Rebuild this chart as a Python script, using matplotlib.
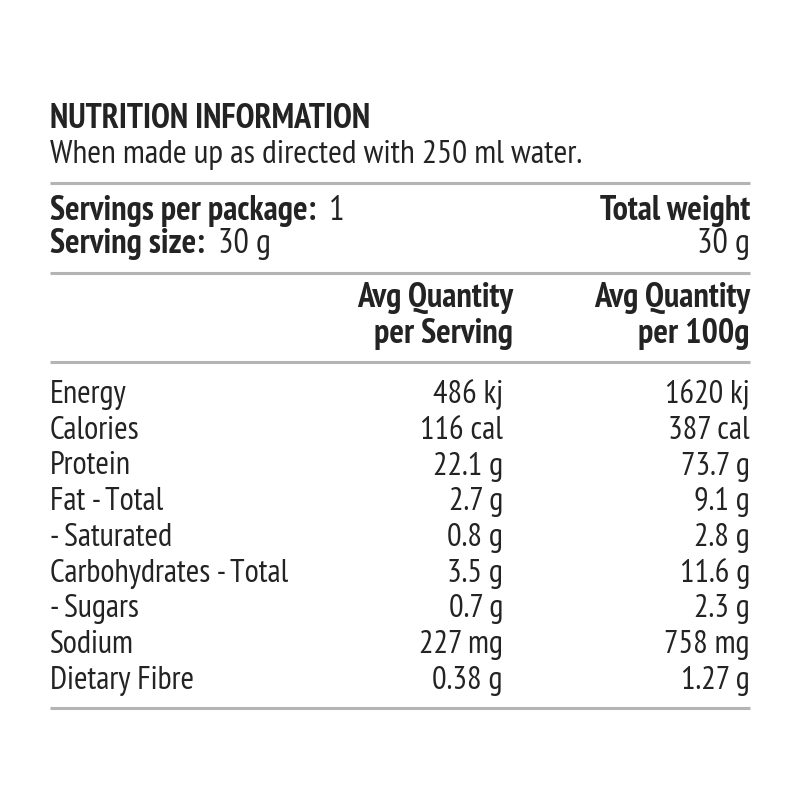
import matplotlib
matplotlib.use("Agg")
import matplotlib.pyplot as plt
from matplotlib import font_manager

# Label content
title = "NUTRITION INFORMATION"
subtitle = "When made up as directed with 250 ml water."
servings_label = "Servings per package:"
servings_value = "1"
size_label = "Serving size:"
size_value = "30 g"
total_label = "Total weight"
total_value = "30 g"
col_headers = [["Avg Quantity", "per Serving"], ["Avg Quantity", "per 100g"]]

nutrients = ["Energy", "Calories", "Protein", "Fat - Total", "- Saturated",
             "Carbohydrates - Total", "- Sugars", "Sodium", "Dietary Fibre"]
per_serving = ["486 kj", "116 cal", "22.1 g", "2.7 g", "0.8 g",
               "3.5 g", "0.7 g", "227 mg", "0.38 g"]
per_100g = ["1620 kj", "387 cal", "73.7 g", "9.1 g", "2.8 g",
            "11.6 g", "2.3 g", "758 mg", "1.27 g"]

# pick a narrow humanist face, close to the label's condensed type
installed = {f.name for f in font_manager.fontManager.ttflist}
wanted = ["PT Sans Narrow", "Fira Sans Condensed", "Open Sans Condensed",
          "Roboto Condensed", "Asap Condensed", "Encode Sans Condensed",
          "Liberation Sans Narrow"]
face = next((f for f in wanted if f in installed), "DejaVu Sans")
plt.rcParams['font.family'] = [face, 'DejaVu Sans']

ink = "#232323"
rule = "#b4b4b4"

fig = plt.figure(figsize=(8, 8), dpi=100)
ax = fig.add_axes([0, 0, 1, 1])
ax.set_xlim(0, 800)
ax.set_ylim(800, 0)
ax.axis("off")
fig.canvas.draw()
renderer = fig.canvas.get_renderer()


def fit_size(s, target_px, weight="normal"):
    # font size that makes string s about target_px wide
    t = ax.text(0, 0, s, fontsize=20, fontweight=weight)
    w = t.get_window_extent(renderer).width
    t.remove()
    return 20 * target_px / w


left, right, col1 = 50, 750, 513
fs_title = fit_size(title, 320, "bold")
fs_sub = fit_size(subtitle, 530)
fs_head = fit_size(servings_label, 266, "bold")
fs_row = fit_size("Carbohydrates - Total", 237)

ax.text(left, 128, title, fontsize=fs_title, fontweight="bold", color=ink, va="baseline")
ax.text(left, 163, subtitle, fontsize=fs_sub, color=ink, va="baseline")

for y in [183, 273, 362, 708]:
    ax.plot([left, right], [y, y], color=rule, lw=2.2, solid_capstyle="butt")


def label_value(y, label, value):
    t = ax.text(left, y, label, fontsize=fs_head, fontweight="bold", color=ink, va="baseline")
    bb = t.get_window_extent(renderer)
    x0 = ax.transData.inverted().transform((bb.x1, 0))[0]
    ax.text(x0 + 13, y, value, fontsize=fs_head, color=ink, va="baseline")


label_value(220, servings_label, servings_value)
label_value(253, size_label, size_value)
ax.text(right, 220, total_label, fontsize=fs_head, fontweight="bold", color=ink,
        va="baseline", ha="right")
ax.text(right, 253, total_value, fontsize=fs_head, color=ink, va="baseline", ha="right")

for x, lines in zip([col1, right], col_headers):
    for j, s in enumerate(lines):
        ax.text(x, 307 + 36 * j, s, fontsize=fs_head, fontweight="bold", color=ink,
                va="baseline", ha="right")

row_base, row_step = 403, 35.75
for i, (n, a, b) in enumerate(zip(nutrients, per_serving, per_100g)):
    y = row_base + i * row_step
    ax.text(left, y, n, fontsize=fs_row, color=ink, va="baseline")
    ax.text(col1 - 10, y, a, fontsize=fs_row, color=ink, va="baseline", ha="right")
    ax.text(right, y, b, fontsize=fs_row, color=ink, va="baseline", ha="right")

fig.savefig("out.png", dpi=100, facecolor="white")
